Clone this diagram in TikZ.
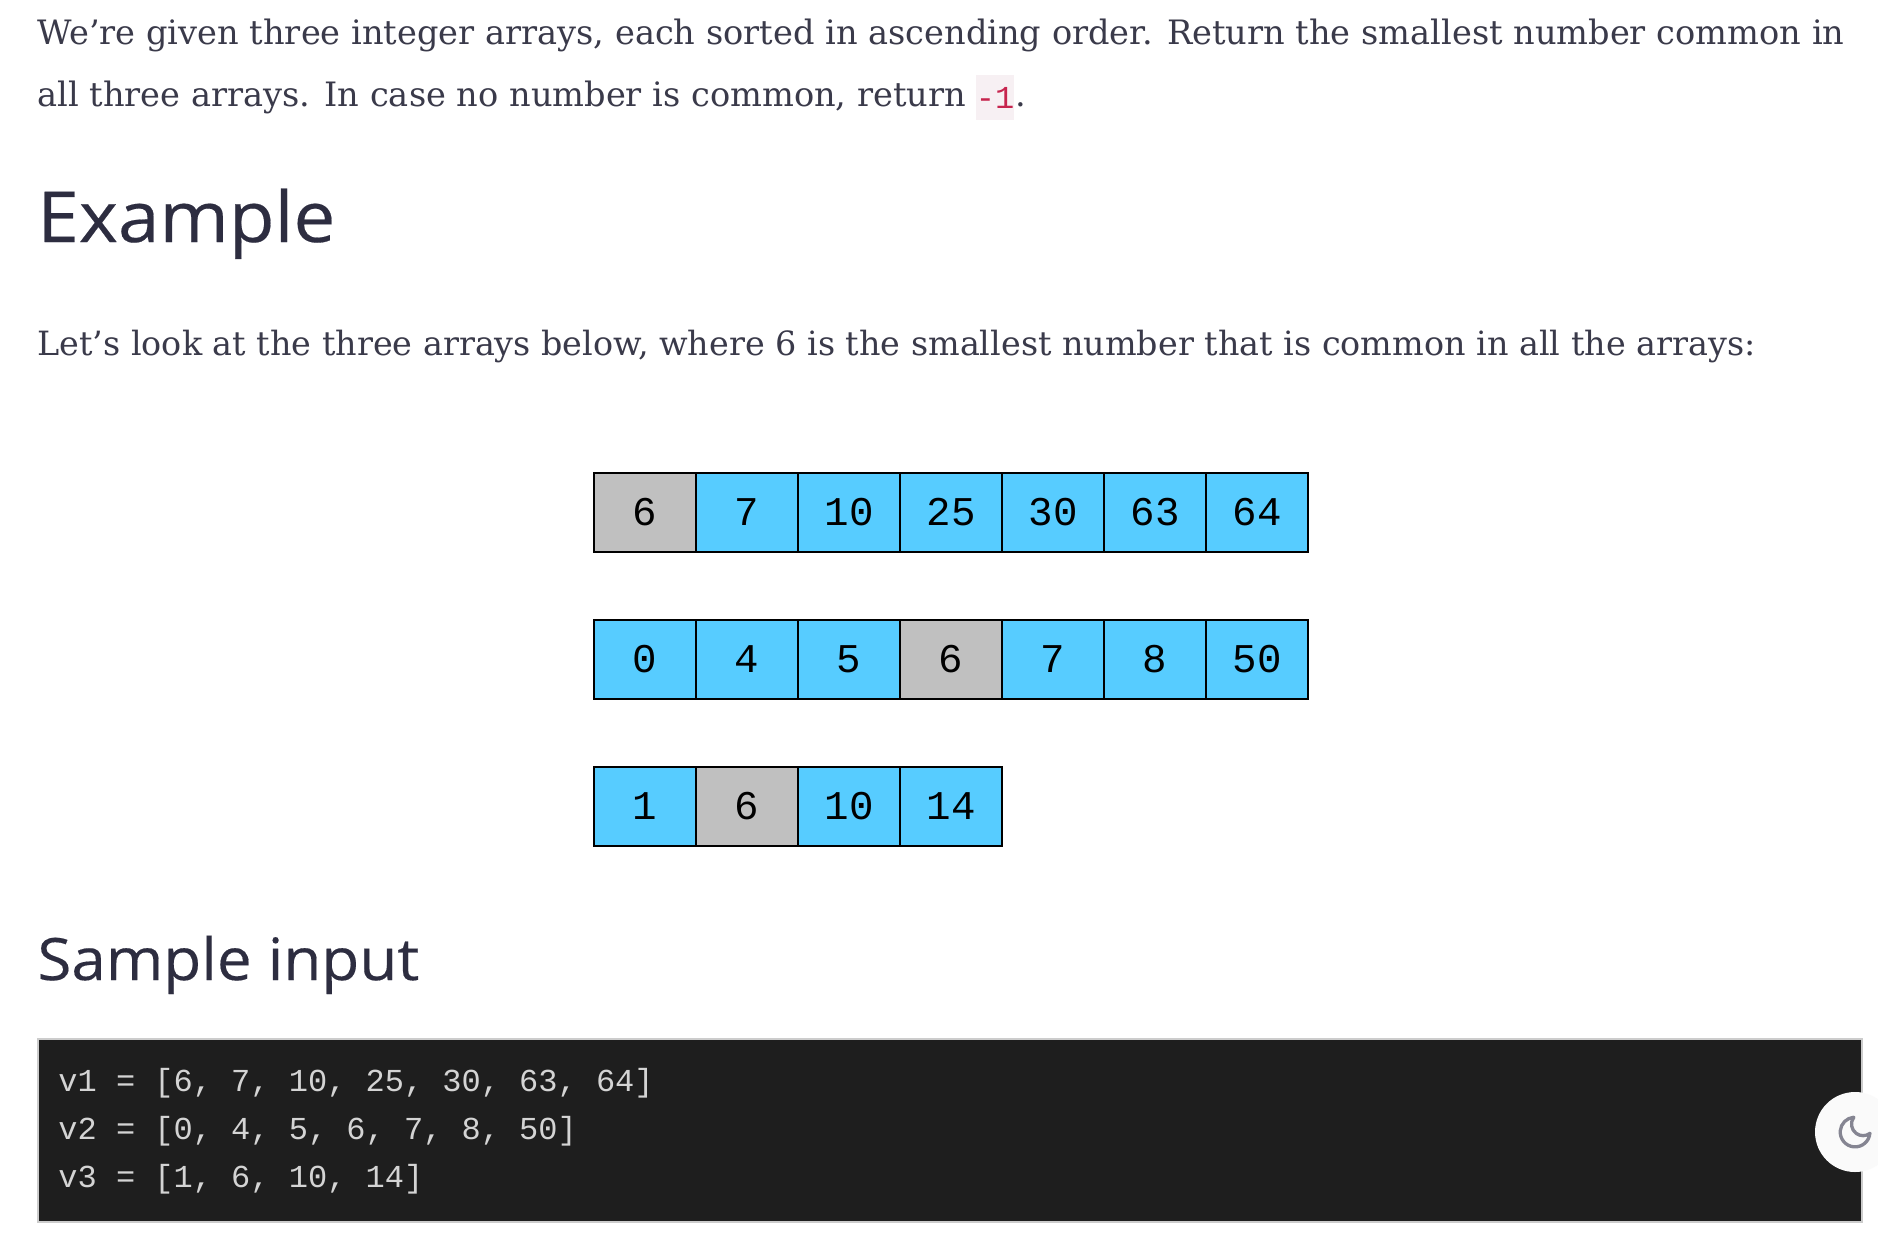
\documentclass[tikz,border=0pt]{standalone}
\usepackage{fontspec}
\usepackage{xcolor}
\usepackage{tikz}
\usetikzlibrary{matrix,positioning}
\setmainfont{DejaVu Serif}
\newfontfamily\headfont[FakeStretch=1.06,FakeBold=0.25]{Open Sans}
\newfontfamily\codefont{Liberation Mono}
\definecolor{inkbody}{RGB}{58,58,74}
\definecolor{inkhead}{RGB}{45,45,64}
\definecolor{cellblue}{RGB}{87,204,255}
\definecolor{cellgray}{RGB}{192,192,192}
\definecolor{chipback}{RGB}{247,240,243}
\definecolor{chipink}{RGB}{199,37,78}
\definecolor{blockback}{RGB}{30,30,30}
\definecolor{blockline}{RGB}{204,204,204}
\definecolor{blockink}{RGB}{212,212,212}
\definecolor{moonback}{RGB}{250,250,250}
\definecolor{moonink}{RGB}{133,133,146}

\tikzset{
	bodytext/.style={anchor=base west,inner sep=0pt,text=inkbody,font=\fontsize{16.8}{20}\selectfont},
	headtext/.style={anchor=base west,inner sep=0pt,text=inkhead,font=\headfont\fontsize{#1}{40}\selectfont},
	codetext/.style={anchor=base west,inner sep=0pt,text=blockink,font=\codefont\fontsize{16}{20}\selectfont},
	arrcell/.style={draw=black,line width=1pt,fill=cellblue,inner sep=0pt,outer sep=0pt,
		minimum width=51pt,minimum height=39.5pt,font=\codefont\fontsize{20.4}{24}\selectfont},
	graycell/.style={fill=cellgray},
	arrrow/.style={matrix of nodes,nodes={arrcell},column sep=-1pt,inner sep=0pt,outer sep=0pt,anchor=north west}
}

\begin{document}
\begin{tikzpicture}[x=0.5pt,y=-0.5pt]
	\path[clip,use as bounding box] (0,0) rectangle (1878,1233);
	\fill[white] (0,0) rectangle (1878,1233);

	\node[bodytext] (lineone) at (37,44) {We’re given three integer arrays, each sorted in ascending order. Return the smallest number common in};
	\node[bodytext] (linetwo) at (37,106) {all three arrays. In case no number is common, return};
	\node[fill=chipback,inner sep=0pt,minimum width=19pt,minimum height=22.5pt,text=chipink,
		font=\codefont\fontsize{16}{20}\selectfont] (chip) at (995,97.5) {-1};
	\node[bodytext] (dot) at (1015,106) {.};

	\node[headtext=35.2] (example) at (37,242) {Example};
	\node[bodytext,font=\fontsize{16.7}{20}\selectfont] (linethree) at (37,355) {Let’s look at the three arrays below, where 6 is the smallest number that is common in all the arrays:};

	\matrix [arrrow] (first) at (593,472)
	{
		|[graycell]| 6 & 7 & 10 & 25 & 30 & 63 & 64 \\
	};
	\matrix [arrrow] (second) at (593,619)
	{
		0 & 4 & 5 & |[graycell]| 6 & 7 & 8 & 50 \\
	};
	\matrix [arrrow] (third) at (593,766)
	{
		1 & |[graycell]| 6 & 10 & 14 \\
	};

	\node[headtext=29.2] (sample) at (37,980) {Sample input};

	\draw[fill=blockback,draw=blockline,line width=1pt] (38,1039) rectangle (1862,1222);
	\node[codetext] (vone) at (58,1091) {v1 = [6, 7, 10, 25, 30, 63, 64]};
	\node[codetext] (vtwo) at (58,1139) {v2 = [0, 4, 5, 6, 7, 8, 50]};
	\node[codetext] (vthree) at (58,1187) {v3 = [1, 6, 10, 14]};

	\fill[moonback] (1855,1132) circle [radius=20pt];
	\begin{scope}[shift={(1855,1132)},x=0.825pt,y=0.825pt]
		\draw[moonink,line width=1.65pt,line cap=round,line join=round]
			(9,-0.79) arc [start angle=-5,end angle=-265,radius=9*0.825pt]
			arc [start angle=143.5,end angle=306.5,radius=7*0.825pt] -- cycle;
	\end{scope}
\end{tikzpicture}
\end{document}
